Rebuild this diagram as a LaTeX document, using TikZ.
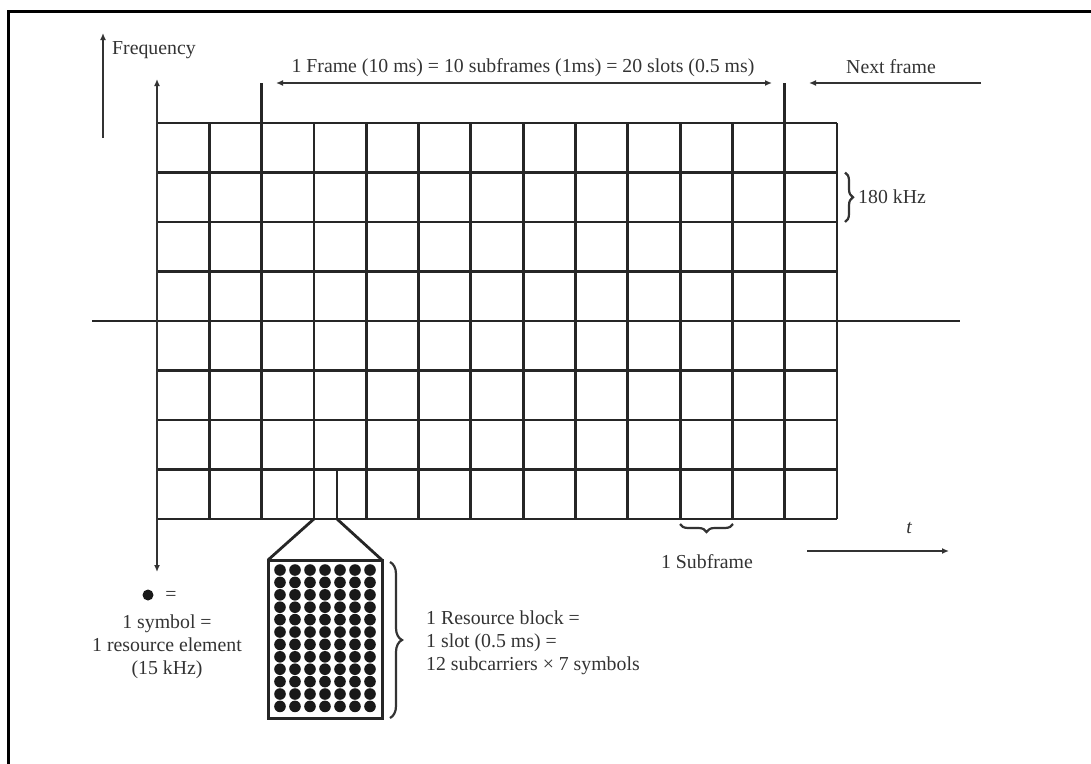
\documentclass[tikz,border=0pt]{standalone}
\usepackage{fontspec}
\setmainfont{Liberation Serif}
\usetikzlibrary{arrows.meta,decorations.pathreplacing}
\begin{document}
\begin{tikzpicture}[x=1pt,y=-1pt,
  gridline/.style={line width=2.8pt, black!85},
  axis/.style={line width=2.6pt, black!80},
  tipend/.style={-{Latex[length=7pt,width=6pt]}},
  tipboth/.style={{Latex[length=7pt,width=6pt]}-{Latex[length=7pt,width=6pt]}},
  lbl/.style={font=\fontsize{19.8}{23}\selectfont, text=black!80, inner sep=0pt},
  bracedec/.style={decorate, decoration={brace, amplitude=8pt}, line width=2.2pt, black!80}]
\useasboundingbox (0,0) rectangle (1091,763);
% outer frame
\draw[line width=3pt] (8,775) -- (8,11) -- (1100,11);
% grid
\foreach \i in {0,...,13} \draw[gridline] ({157+\i*52.31},123) -- ({157+\i*52.31},519);
\foreach \j in {0,...,8} \draw[gridline] (157,{123+\j*49.5}) -- (837,{123+\j*49.5});
% horizontal middle axis
\coordinate (hl) at (92,321);
\coordinate (hr) at (960,321);
\draw[gridline] (hl) -- (hr);
% vertical axis with arrows both ends
\coordinate (vtop) at (157,79);
\coordinate (vbot) at (157,572);
\draw[axis,tipboth] (vbot) -- (vtop);
% frequency arrow
\coordinate (fb) at (103,138);
\coordinate (ft) at (103,33);
\draw[axis,tipend] (fb) -- (ft);
\node[lbl,anchor=west] (freq) at (112,50) {Frequency};
% frame ticks
\coordinate (fs0) at (261.6,83);
\coordinate (fs1) at (261.6,123);
\coordinate (fe0) at (784.7,83);
\coordinate (fe1) at (784.7,123);
\draw[gridline] (fs0) -- (fs1);
\draw[gridline] (fe0) -- (fe1);
\coordinate (fa) at (276,83);
\coordinate (fz) at (772,83);
\draw[axis,tipboth] (fa) -- (fz);
\node[lbl,anchor=base] (frame) at (523,72) {1 Frame (10 ms) = 10 subframes (1ms) = 20 slots (0.5 ms)};
% next frame
\coordinate (na) at (981,83);
\coordinate (nz) at (809,83);
\draw[axis,tipend] (na) -- (nz);
\node[lbl,anchor=base] (next) at (891,73) {Next frame};
% 180 kHz brace
\coordinate (b1a) at (845,172.5);
\coordinate (b1b) at (845,222);
\draw[bracedec] (b1a) -- (b1b);
\node[lbl,anchor=west] (khz) at (858,197) {180 kHz};
% subframe brace
\coordinate (b2a) at (733,524);
\coordinate (b2b) at (680,524);
\draw[bracedec] (b2a) -- (b2b);
\node[lbl] (sub) at (707,562) {1 Subframe};
% time arrow
\coordinate (ta) at (807,551);
\coordinate (tz) at (949,551);
\draw[axis,tipend] (ta) -- (tz);
\node[lbl,font=\fontsize{19.8}{23}\selectfont\itshape] (tlab) at (909,528) {t};
% resource block zoom
\coordinate (sl) at (313.9,519);
\coordinate (sr) at (337,519);
\coordinate (srt) at (337,470);
\draw[gridline] (sr) -- (srt);
\coordinate (rtl) at (268,560);
\coordinate (rtr) at (382,560);
\coordinate (rbr) at (382,718);
\draw[gridline] (sl) -- (rtl);
\draw[gridline] (sr) -- (rtr);
\draw[gridline,line width=3pt] (rtl) rectangle (rbr);
\foreach \c in {0,...,6}
  \foreach \r in {0,...,11}
    \fill[black!90] ({280+\c*15},{570+\r*12.4}) circle (5.8);
% RB brace
\coordinate (b3a) at (390,562);
\coordinate (b3b) at (390,718);
\draw[bracedec,decoration={brace,amplitude=12pt}] (b3a) -- (b3b);
\node[lbl,anchor=west,align=left] (rb) at (426,643) {1 Resource block =\\1 slot (0.5 ms) =\\12 subcarriers × 7 symbols};
% symbol legend
\fill[black!90] (148,595) circle (5.5);
\node[lbl] (eq) at (171,596) {=};
\node[lbl,align=center] (sym) at (167,647) {1 symbol =\\1 resource element\\(15 kHz)};
\end{tikzpicture}
\end{document}
